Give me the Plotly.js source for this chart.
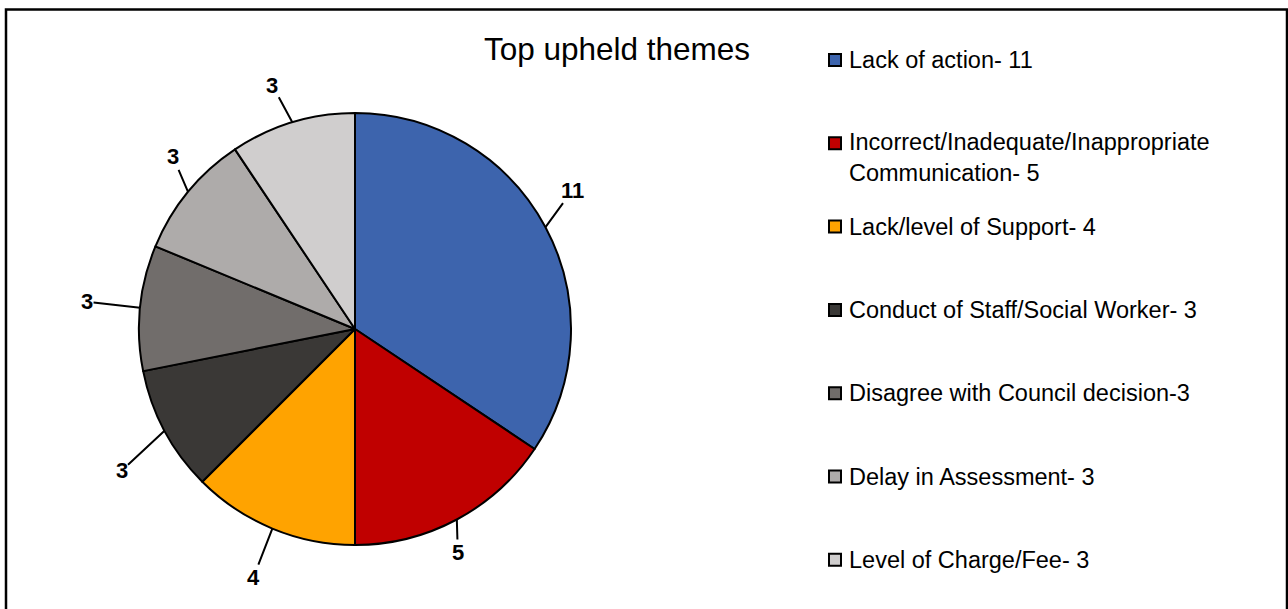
<!DOCTYPE html>
<html>
<head>
<meta charset="utf-8">
<script src="https://cdn.plot.ly/plotly-3.0.1.min.js"></script>
<style>html,body{margin:0;padding:0;background:#fff;}#chart{width:1288px;height:609px;}</style>
</head>
<body>
<div id="chart"></div>
<script>
// ---- data ----
const chartTitle = 'Top upheld themes';
const categories = [
  'Lack of action',
  'Incorrect/Inadequate/Inappropriate Communication',
  'Lack/level of Support',
  'Conduct of Staff/Social Worker',
  'Disagree with Council decision',
  'Delay in Assessment',
  'Level of Charge/Fee'
];
const values = [11, 5, 4, 3, 3, 3, 3];
const legendLabels = [
  'Lack of action- 11',
  'Incorrect/Inadequate/Inappropriate<br>Communication- 5',
  'Lack/level of Support- 4',
  'Conduct of Staff/Social Worker- 3',
  'Disagree with Council decision-3',
  'Delay in Assessment- 3',
  'Level of Charge/Fee- 3'
];
const colors = ['#3D64AD', '#C00000', '#FFA300', '#3A3836', '#716D6B', '#AEABAA', '#D0CECE'];

// ---- layout styling (pixels) ----
const W = 1288, H = 609;
const pieBox = {left: 139, right: 571, top: 113, bottom: 545};
const labelOffsets = [[27, -37], [1, 33], [-19, 49], [-43, 40], [-53, -6], [-15, -35], [-20, -37]];
const legendX = 847, legendY0 = 60, legendStep = 83.3, legendFont = 23.5, lineSp = 29;
const FONT = 'Arial, "Liberation Sans", sans-serif';

const px = x => x / W;
const py = y => 1 - y / H;

const trace = {
  type: 'pie',
  labels: categories,
  values: values,
  sort: false,
  direction: 'clockwise',
  rotation: 0,
  marker: {colors: colors, line: {color: '#000', width: 2}},
  textinfo: 'none',
  hoverinfo: 'label+value',
  domain: {x: [px(pieBox.left), px(pieBox.right)], y: [py(pieBox.bottom), py(pieBox.top)]},
  showlegend: false
};

const annotations = [];
const shapes = [];

// data labels with leader lines
const total = values.reduce((a, b) => a + b, 0);
const cx = (pieBox.left + pieBox.right) / 2, cy = (pieBox.top + pieBox.bottom) / 2;
const r = Math.min(pieBox.right - pieBox.left, pieBox.bottom - pieBox.top) / 2;
let cum = 0;
values.forEach((v, i) => {
  const a = (cum + v / 2) / total * 2 * Math.PI;
  cum += v;
  const ex = cx + r * Math.sin(a), ey = cy - r * Math.cos(a);
  annotations.push({
    xref: 'paper', yref: 'paper', x: px(ex), y: py(ey),
    text: '<b>' + v + '</b>',
    showarrow: true, arrowhead: 0, arrowwidth: 2, arrowcolor: '#000',
    standoff: 0, startstandoff: 0,
    ax: labelOffsets[i][0], ay: labelOffsets[i][1],
    font: {family: FONT, size: 22, color: '#000'},
    borderpad: 0
  });
});

// manual legend
legendLabels.forEach((t, i) => {
  const yFirst = legendY0 + i * legendStep;
  const nLines = t.split('<br>').length;
  annotations.push({
    xref: 'paper', yref: 'paper',
    x: px(legendX), y: py(yFirst + (nLines - 1) * lineSp / 2),
    xanchor: 'left', yanchor: 'middle', align: 'left',
    text: t, showarrow: false,
    font: {family: FONT, size: legendFont, color: '#000'}
  });
  shapes.push({
    type: 'rect', xref: 'paper', yref: 'paper',
    x0: px(829), x1: px(841), y0: py(yFirst - 6), y1: py(yFirst + 6),
    fillcolor: colors[i], line: {color: '#000', width: 2}
  });
});

// outer border
shapes.push({
  type: 'rect', xref: 'paper', yref: 'paper',
  x0: px(6), x1: px(1287), y0: py(9.5), y1: py(616),
  line: {color: '#000', width: 2.5}, fillcolor: 'rgba(0,0,0,0)'
});

const layout = {
  width: W, height: H,
  margin: {l: 0, r: 0, t: 0, b: 0},
  paper_bgcolor: '#fff',
  plot_bgcolor: '#fff',
  showlegend: false,
  title: {
    text: chartTitle,
    x: px(617), xanchor: 'center', xref: 'paper',
    y: py(49), yanchor: 'middle', yref: 'paper',
    font: {family: FONT, size: 31.5, color: '#000'}
  },
  annotations: annotations,
  shapes: shapes
};

Plotly.newPlot('chart', [trace], layout, {displayModeBar: false, staticPlot: true});
</script>
</body>
</html>
